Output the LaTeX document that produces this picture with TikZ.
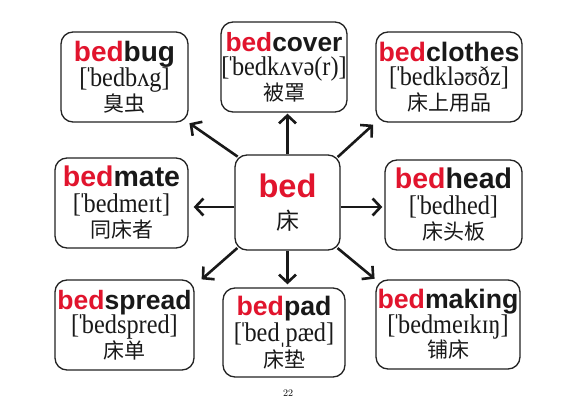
\documentclass[tikz,border=0pt]{standalone}
\usepackage{fontspec}
\usetikzlibrary{arrows.meta}

\newfontfamily\wordfont{Liberation Sans}
\newfontfamily\ipafont{Liberation Serif}[FakeStretch=0.9]
\newfontfamily\cjk{Noto Sans CJK SC}

\definecolor{bedred}{RGB}{225,20,45}
\definecolor{boxline}{RGB}{35,35,35}

\newcommand{\headword}[2]{{\wordfont\bfseries\fontsize{#1}{24.5pt}\selectfont\textcolor{bedred}{bed}#2}}
\newcommand{\phon}[1]{{\ipafont\fontsize{27pt}{24.5pt}\selectfont #1}}
\newcommand{\stress}{\kern-.1emˈ\kern-.1em}
\newcommand{\substress}{\kern-.04emˌ\kern-.04em}
\newcommand{\gloss}[1]{{\cjk\fontsize{21pt}{24.5pt}\selectfont #1}}

\tikzset{
  word/.style={draw=boxline, line width=1.3pt, fill=white, rounded corners=12pt,
    inner sep=0pt, minimum height=90pt, align=center, text=black!90,
    font=\fontsize{21pt}{24.5pt}\selectfont},
  link/.style={draw=black!90, line width=2.6pt,
    -{Straight Barb[length=8pt,width=17pt]}},
}

\begin{document}
\begin{tikzpicture}[x=1pt, y=-1pt]

  % Page (pixel grid, y downwards)
  \fill[white] (0,0) rectangle (588,406);

  % Centre word
  \node[word, minimum width=105pt, minimum height=95pt,
        font=\fontsize{23pt}{31.5pt}\selectfont] (bed) at (287.5,202.5)
    {{\wordfont\bfseries\fontsize{32.6pt}{31.5pt}\selectfont\textcolor{bedred}{bed}}\\ {\cjk 床}};

  % Compounds
  \node[word, minimum width=127pt] (bug) at (124.5,77)
    {\headword{28pt}{bug}\\ \phon{[\stress bedbʌg]}\\ \gloss{臭虫}};
  \node[word, minimum width=126pt] (cover) at (284,67)
    {\headword{26.3pt}{cover}\\ \phon{[\stress bedkʌvə(r)]}\\ \gloss{被罩}};
  \node[word, minimum width=146pt] (clothes) at (449,77)
    {\headword{26.7pt}{clothes}\\ \phon{[\stress bedkləʊðz]}\\ \gloss{床上用品}};
  \node[word, minimum width=133pt, font=\fontsize{21pt}{25.5pt}\selectfont] (mate) at (121.5,203)
    {\headword{28.5pt}{mate}\\ \phon{[\stress bedmeɪt]}\\ \gloss{同床者}};
  \node[word, minimum width=137pt, font=\fontsize{21pt}{25.5pt}\selectfont] (head) at (453.5,205)
    {\headword{28.5pt}{head}\\ \phon{[\stress bedhed]}\\ \gloss{床头板}};
  \node[word, minimum width=139pt] (spread) at (124.5,325)
    {\headword{26.5pt}{spread}\\ \phon{[\stress bedspred]}\\ \gloss{床单}};
  \node[word, minimum width=122pt, minimum height=89pt,
        font=\fontsize{21pt}{26pt}\selectfont] (pad) at (284,332.5)
    {\headword{26.7pt}{pad}\\ \phon{[\stress bed\substress pæd]}\\ \gloss{床垫}};
  \node[word, minimum width=144pt, minimum height=89pt] (making) at (448,324.5)
    {\headword{26.7pt}{making}\\ \phon{[\stress bedmeɪkɪŋ]}\\ \gloss{铺床}};

  \node (pagenum) at (288,393) {\fontsize{10pt}{12pt}\selectfont 22};

  % Arrows out of the centre
  \coordinate (bedleft) at ([yshift=-4.5pt]bed.west);
  \coordinate (bedright) at ([yshift=-4.5pt]bed.east);

  \draw[link, shorten <=-4pt, shorten >=1pt] (bed.north west) -- (bug.south east);
  \draw[link, shorten >=1pt] (bed.north) -- (bed.north |- cover.south);
  \draw[link, shorten <=-4pt, shorten >=3pt] (bed.north east) -- (clothes.south west);
  \draw[link, shorten >=5pt] (bedleft) -- (bedleft -| mate.east);
  \draw[link, shorten >=2pt] (bedright) -- (bedright -| head.west);
  \draw[link, shorten <=-4pt] (bed.south west) -- ([xshift=7pt]spread.north east);
  \draw[link, shorten >=3pt] (bed.south) -- (bed.south |- pad.north);
  \draw[link, shorten <=-4pt, shorten >=1pt] (bed.south east) -- (making.north west);

\end{tikzpicture}
\end{document}
